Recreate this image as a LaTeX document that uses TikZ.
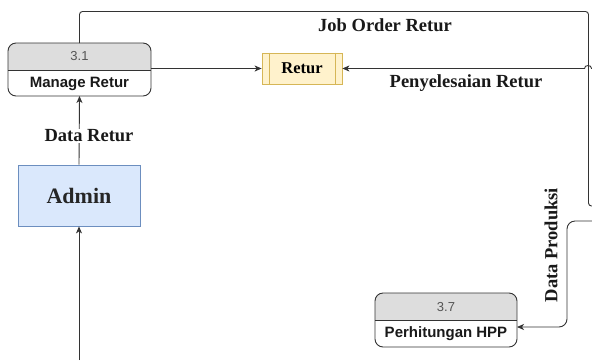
\documentclass[tikz,border=0pt]{standalone}
\usepackage{fontspec}
\setmainfont{Liberation Serif}
\newfontfamily\arialf{Liberation Sans}
\usetikzlibrary{arrows.meta}
\definecolor{headgray}{HTML}{DDDDDD}
\definecolor{storefill}{HTML}{FFF2CC}
\definecolor{storeline}{HTML}{D6B656}
\definecolor{entfill}{HTML}{DAE8FC}
\definecolor{entline}{HTML}{6C8EBF}
\definecolor{linec}{HTML}{333333}
\definecolor{numc}{HTML}{555555}
\tikzset{
  flow/.style={draw=linec, line width=0.9pt, -{Stealth[length=7pt,width=6pt,inset=2pt]}},
  plain/.style={draw=linec, line width=0.9pt},
  lbl/.style={font=\fontsize{18.5}{20}\selectfont\bfseries, text=black!90, inner sep=1pt},
  procnum/.style={font=\arialf\fontsize{13}{14}\selectfont, text=numc, inner sep=0pt},
  proctxt/.style={font=\arialf\fontsize{15}{16}\selectfont\bfseries, text=black!90, inner sep=0pt},
  hidden/.style={draw=none, inner sep=0pt, outer sep=0pt},
}
\newcommand{\procshape}[3]{% name, divider y-name
  \begin{scope}
    \clip[rounded corners=8pt] (#1.south west) rectangle (#1.north east);
    \fill[headgray] (#1.north west) rectangle (#1.east |- #2);
  \end{scope}
  \draw[linec, line width=0.9pt, rounded corners=8pt] (#1.south west) rectangle (#1.north east);
  \draw[linec, line width=0.9pt] (#1.west |- #2) -- (#1.east |- #2);
}
\begin{document}
\begin{tikzpicture}[x=1pt,y=-1pt]
\useasboundingbox (0,0) rectangle (592,360);
\fill[white] (0,0) rectangle (592,360);

% process 3.1
\node[hidden, minimum width=143pt, minimum height=53pt] (p31) at (79.5,69.5) {};
\coordinate (d31) at (79.5,70);
\procshape{p31}{d31}{}
\node[procnum] (n31) at (79.5,56.5) {3.1};
\node[proctxt] (t31) at (79.5,83.5) {Manage Retur};

% process 3.7
\node[hidden, minimum width=142pt, minimum height=54pt] (p37) at (446,320) {};
\coordinate (d37) at (446,320);
\procshape{p37}{d37}{}
\node[procnum] (n37) at (446,307) {3.7};
\node[proctxt] (t37) at (446,334) {Perhitungan HPP};

% data store Retur
\node[draw=storeline, fill=storefill, line width=0.8pt, minimum width=80pt, minimum height=31pt, inner sep=0pt,
      font=\fontsize{16.5}{18}\selectfont\bfseries] (store) at (302,68.5) {Retur};
\draw[storeline, line width=0.8pt] ([xshift=8pt]store.north west) -- ([xshift=8pt]store.south west);
\draw[storeline, line width=0.8pt] ([xshift=-7pt]store.north east) -- ([xshift=-7pt]store.south east);

% entity Admin
\node[draw=entline, fill=entfill, line width=0.8pt, minimum width=122pt, minimum height=61pt, inner sep=0pt,
      font=\fontsize{22}{24}\selectfont\bfseries, text=black!85] (admin) at (79,195.5) {Admin};

% coordinates for free ends
\coordinate (topL) at (79.5,11.5);
\coordinate (topR) at (588.5,11.5);
\coordinate (jobEnd) at (592,206);
\coordinate (penStart) at (592,68.5);
\coordinate (hopR) at (591.5,68.5);
\coordinate (hopL) at (584.5,68.5);
\coordinate (prodStart) at (592,221);
\coordinate (prodCorner) at (567,221);
\coordinate (bottom) at (79,360);

% Job Order Retur
\draw[plain, rounded corners=3pt] (p31.north) -- (topL) -- (topR) -- (588.5,206) -- (jobEnd);
\node[lbl] (ljob) at (385,25) {Job Order Retur};

% 3.1 -> Retur
\draw[flow] (p31.east |- store.west) -- (store.west);

% Penyelesaian Retur (with line hop)
\draw[flow] (penStart) -- (hopR) .. controls (591.5,64.5) and (584.5,64.5) .. (hopL) -- (store.east);
\node[lbl] (lpen) at (466,83) {Penyelesaian Retur};

% Data Retur
\draw[flow] (admin.north) -- (p31.south);
\node[lbl, fill=white] (lret) at (89,136) {Data Retur};

% bottom -> Admin
\draw[flow] (bottom) -- (admin.south);

% Data Produksi
\draw[flow, rounded corners=8pt] (prodStart) -- (prodCorner) -- (567,327) -- (p37.east |- 0,327);
\node[lbl, rotate=90] (lprod) at (551,245) {Data Produksi};
\end{tikzpicture}
\end{document}
